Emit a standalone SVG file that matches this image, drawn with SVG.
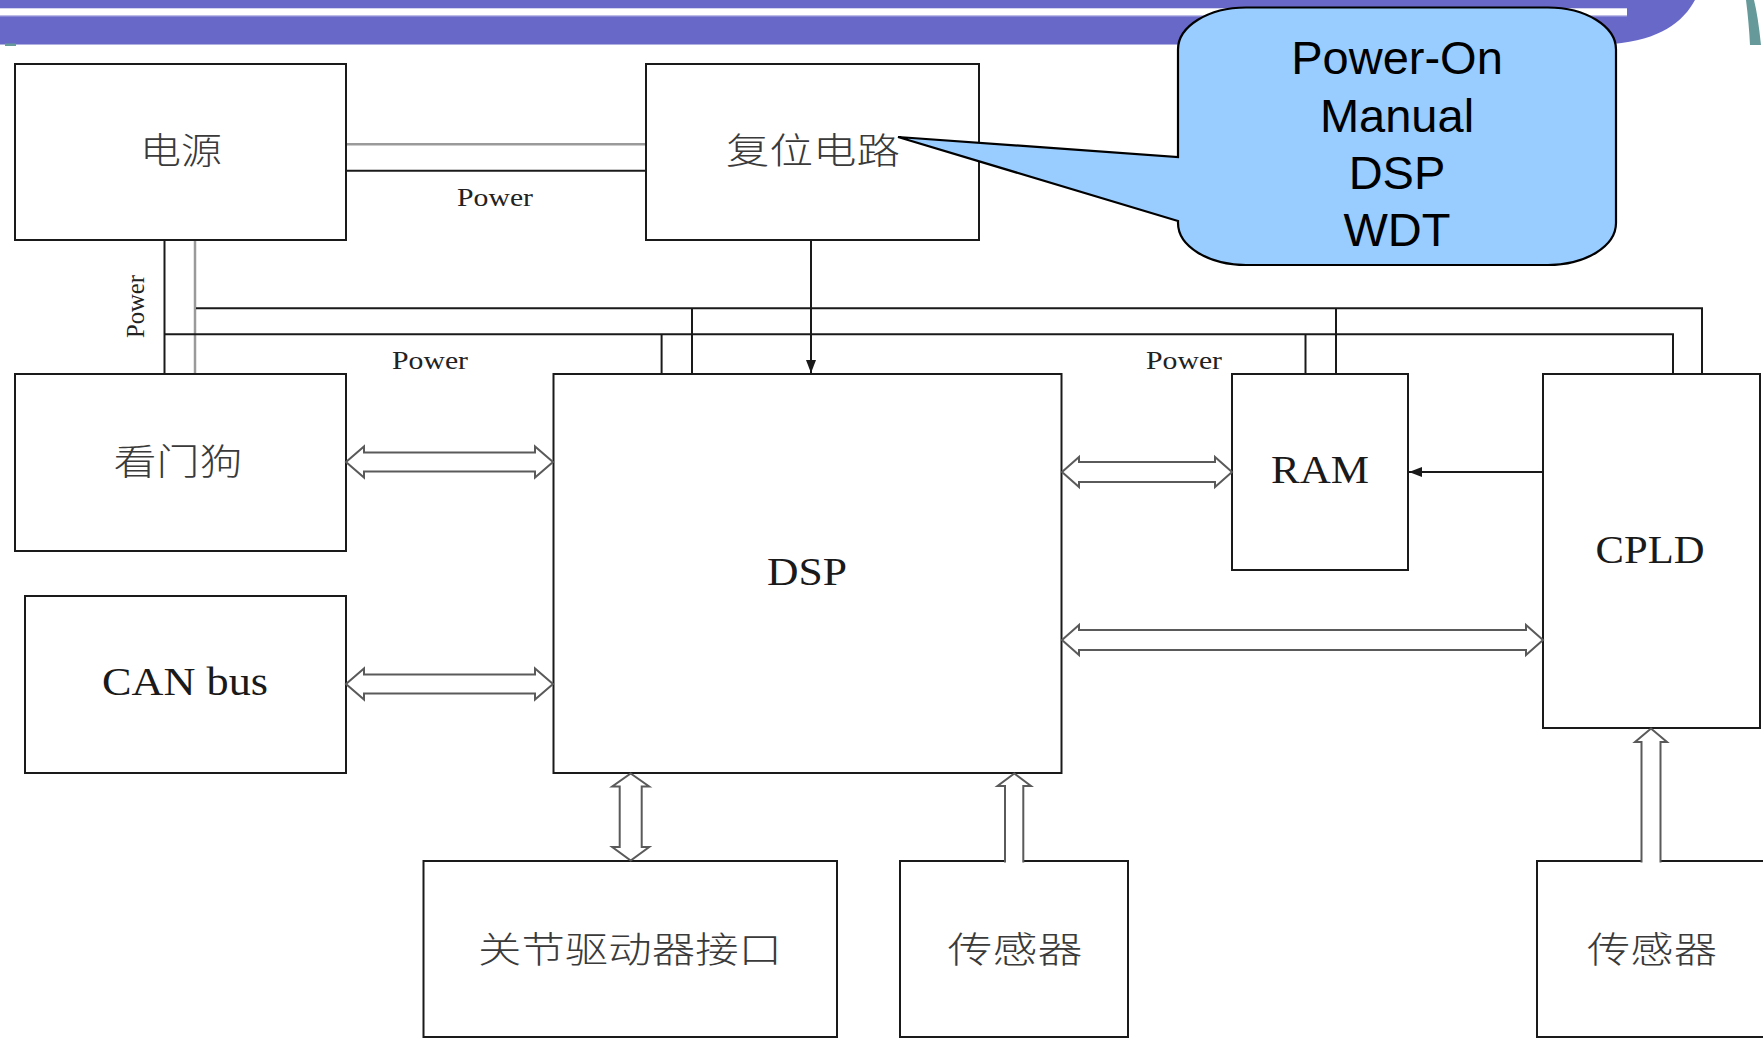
<svg xmlns="http://www.w3.org/2000/svg" width="1763" height="1038" viewBox="0 0 1763 1038">
<style>
.box{fill:#fff;stroke:#1a1a1a;stroke-width:2}
.cjk{font-family:"Noto Sans CJK SC","Liberation Serif",serif;font-size:36px;font-weight:300;fill:#3a3a3a;text-anchor:middle;dominant-baseline:central}
.lat{font-family:"Liberation Serif",serif;font-size:39px;fill:#1a1a1a;text-anchor:middle}
.pw{font-family:"Liberation Serif",serif;font-size:26px;fill:#222;text-anchor:middle}
.ln{fill:none;stroke:#1a1a1a;stroke-width:2}
.gl{fill:none;stroke:#9a9a9a;stroke-width:2.5}
.ha{fill:#fff;stroke:#5a5a5a;stroke-width:2;stroke-linejoin:miter}
.co{font-family:"Liberation Sans",Arial,sans-serif;font-size:47px;fill:#000;text-anchor:middle}
</style>
<defs>
<marker id="ah" viewBox="0 0 13 10" refX="13" refY="5" markerWidth="13" markerHeight="10" markerUnits="userSpaceOnUse" orient="auto">
<path d="M0,0 L13,5 L0,10 Z" fill="#1a1a1a"/>
</marker>
</defs>
<rect width="1763" height="1038" fill="#fff"/>
<g id="banner">
<path d="M0,0 H1695 C1683,22 1660,40 1613,44 H0 Z" fill="#6868C8"/>
<rect x="0" y="8.3" width="1627" height="7.4" fill="#fff"/>
<line x1="0" y1="16" x2="1627" y2="16" stroke="#a8a8e0" stroke-width="1"/>
<rect x="0" y="44" width="1613" height="1" fill="#b0b0e0"/>
<rect x="5" y="43.5" width="11" height="2.5" fill="#669999"/>
<path d="M1746,0 Q1749,24 1750,45 L1761,45 Q1758,16 1754,0 Z" fill="#669999"/>
</g>
<g id="connectors">
<line class="gl" x1="346" y1="144.3" x2="646" y2="144.3"/>
<line class="ln" x1="346" y1="170.7" x2="646" y2="170.7"/>
<line class="ln" x1="164.5" y1="240" x2="164.5" y2="374"/>
<line class="gl" x1="195" y1="240" x2="195" y2="374"/>
<polyline class="ln" points="196,308.3 1702,308.3 1702,374"/>
<polyline class="ln" points="164.5,334.3 1673,334.3 1673,374"/>
<line class="ln" x1="661.6" y1="334.3" x2="661.6" y2="374"/>
<line class="ln" x1="692" y1="308.3" x2="692" y2="374"/>
<line class="ln" x1="1305.5" y1="334.3" x2="1305.5" y2="374"/>
<line class="ln" x1="1336" y1="308.3" x2="1336" y2="374"/>
<line class="ln" x1="811" y1="240" x2="811" y2="373" marker-end="url(#ah)"/>
<line class="ln" x1="1543" y1="472" x2="1409" y2="472" marker-end="url(#ah)"/>
<text class="pw" x="495" y="206" textLength="76" lengthAdjust="spacingAndGlyphs">Power</text>
<text class="pw" x="430" y="369" textLength="76" lengthAdjust="spacingAndGlyphs">Power</text>
<text class="pw" x="1184" y="369" textLength="76" lengthAdjust="spacingAndGlyphs">Power</text>
<text class="pw" transform="translate(143.5,306.5) rotate(-90)" x="0" y="0" textLength="63" lengthAdjust="spacingAndGlyphs">Power</text>
</g>
<g id="node-power">
<rect class="box" x="15" y="64" width="331" height="176"/>
<text class="cjk" x="181" y="147.5" textLength="82" lengthAdjust="spacingAndGlyphs">电源</text>
</g>
<g id="node-reset">
<rect class="box" x="646" y="64" width="333" height="176"/>
<text class="cjk" x="813" y="148" textLength="174" lengthAdjust="spacingAndGlyphs">复位电路</text>
</g>
<g id="node-watchdog">
<rect class="box" x="15" y="374" width="331" height="177"/>
<text class="cjk" x="178" y="459" textLength="129" lengthAdjust="spacingAndGlyphs">看门狗</text>
</g>
<g id="node-can">
<rect class="box" x="25" y="596" width="321" height="177"/>
<text class="lat" x="185" y="695" textLength="166" lengthAdjust="spacingAndGlyphs">CAN bus</text>
</g>
<g id="node-dsp">
<rect class="box" x="553.5" y="374" width="508" height="399"/>
<text class="lat" x="807" y="585" textLength="80" lengthAdjust="spacingAndGlyphs">DSP</text>
</g>
<g id="node-ram">
<rect class="box" x="1232" y="374" width="176" height="196"/>
<text class="lat" x="1320" y="483" textLength="98" lengthAdjust="spacingAndGlyphs">RAM</text>
</g>
<g id="node-cpld">
<rect class="box" x="1543" y="374" width="217" height="354"/>
<text class="lat" x="1650" y="563" textLength="109" lengthAdjust="spacingAndGlyphs">CPLD</text>
</g>
<g id="node-joint">
<rect class="box" x="423.5" y="861" width="413.5" height="176"/>
<text class="cjk" x="630" y="947" textLength="304" lengthAdjust="spacingAndGlyphs">关节驱动器接口</text>
</g>
<g id="node-sensor1">
<rect class="box" x="900" y="861" width="228" height="176"/>
<text class="cjk" x="1015" y="947" textLength="135" lengthAdjust="spacingAndGlyphs">传感器</text>
</g>
<g id="node-sensor2">
<rect class="box" x="1537" y="861" width="230" height="176"/>
<text class="cjk" x="1652" y="947" textLength="130" lengthAdjust="spacingAndGlyphs">传感器</text>
</g>
<g id="bus-arrows">
<polygon class="ha" points="346,462 364,446.5 364,452.5 535,452.5 535,446.5 553,462 535,477.5 535,471.5 364,471.5 364,477.5"/>
<polygon class="ha" points="346,684 364,668.5 364,674.5 535,674.5 535,668.5 553,684 535,699.5 535,693.5 364,693.5 364,699.5"/>
<polygon class="ha" points="1062,472 1079,457 1079,462 1215,462 1215,457 1232,472 1215,487 1215,482 1079,482 1079,487"/>
<polygon class="ha" points="1062,640 1079,625 1079,630 1526,630 1526,625 1543,640 1526,655 1526,650 1079,650 1079,655"/>
<polygon class="ha" points="630.7,773.5 649.2,786.5 641.7,786.5 641.7,847 649.2,847 630.7,860.5 612.2,847 619.7,847 619.7,786.5 612.2,786.5"/>
<path class="ha" d="M1005,862.5 V786 H997.5 L1014.3,773.5 L1031,786 H1023.3 V862.5"/>
<path class="ha" d="M1641.5,862.5 V742 H1635 L1651,728.5 L1667,742 H1660.5 V862.5"/>
</g>
<g id="callout">
<path d="M1246,7.5 H1548 A68,42 0 0 1 1616,49.5 V223 A68,42 0 0 1 1548,265 H1246 A68,42 0 0 1 1178,223 V221 L898,137 L1178,157 V49.5 A68,42 0 0 1 1246,7.5 Z" fill="#99CCFF" stroke="#000" stroke-width="2.2" stroke-linejoin="miter"/>
<text class="co" x="1397" y="74">Power-On</text>
<text class="co" x="1397" y="131.5">Manual</text>
<text class="co" x="1397" y="188.5">DSP</text>
<text class="co" x="1397" y="246">WDT</text>
</g>
</svg>
